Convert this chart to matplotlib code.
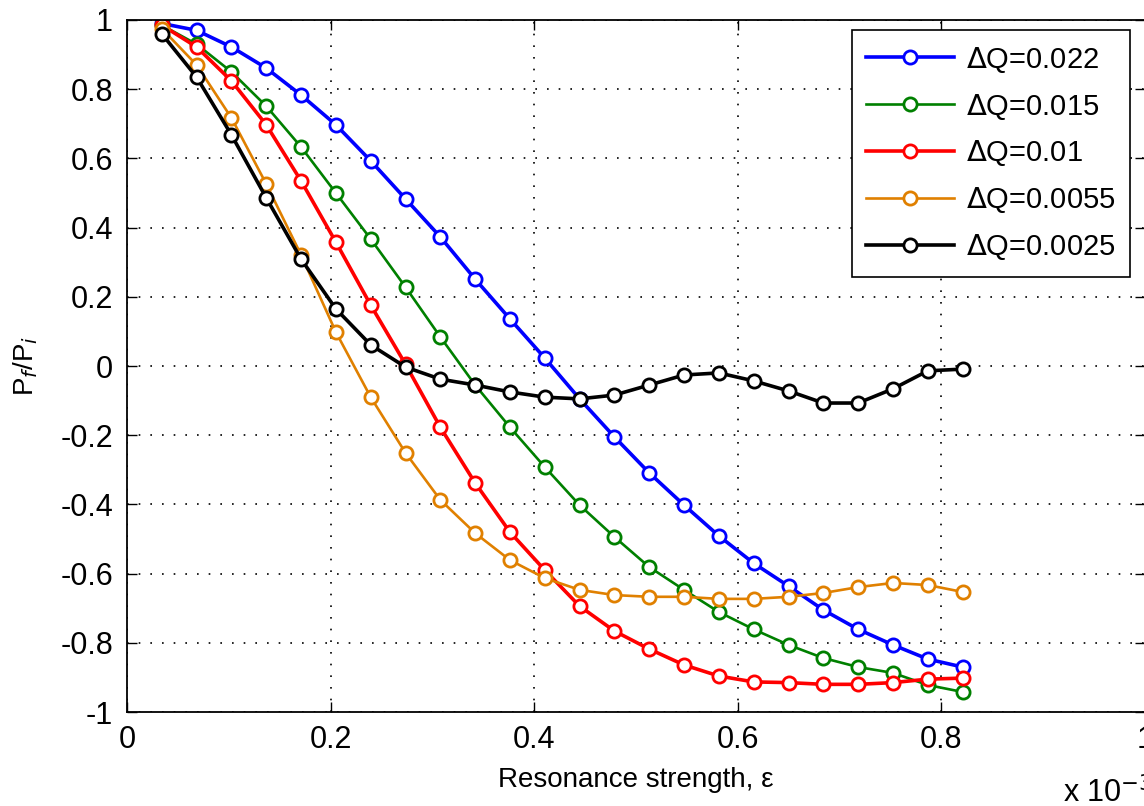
import numpy as np
import matplotlib
matplotlib.use("Agg")
import matplotlib.pyplot as plt

plt.rcParams['font.family'] = ['Liberation Sans', 'DejaVu Sans']

# resonance strength (x 1e-3)
eps = [0.0342, 0.0684, 0.1026, 0.1368, 0.1710, 0.2052, 0.2394, 0.2736,
       0.3078, 0.3420, 0.3762, 0.4104, 0.4446, 0.4788, 0.5130, 0.5472,
       0.5814, 0.6156, 0.6498, 0.6840, 0.7182, 0.7524, 0.7866, 0.8208]

# Pf/Pi para cada dQ
p_022 = [0.99, 0.97, 0.922, 0.861, 0.783, 0.697, 0.593, 0.483, 0.373, 0.251,
         0.136, 0.023, -0.095, -0.205, -0.309, -0.402, -0.491, -0.570, -0.636,
         -0.705, -0.761, -0.806, -0.847, -0.870]
p_015 = [0.985, 0.93, 0.85, 0.751, 0.633, 0.500, 0.367, 0.228, 0.084, -0.055,
         -0.177, -0.292, -0.402, -0.494, -0.581, -0.647, -0.711, -0.761, -0.806,
         -0.844, -0.870, -0.887, -0.922, -0.942]
p_010 = [0.985, 0.922, 0.824, 0.697, 0.535, 0.358, 0.176, 0.005, -0.177, -0.338,
         -0.480, -0.590, -0.694, -0.766, -0.818, -0.864, -0.896, -0.913, -0.915,
         -0.92, -0.92, -0.915, -0.905, -0.902]
p_0055 = [0.975, 0.87, 0.717, 0.526, 0.321, 0.098, -0.090, -0.251, -0.387, -0.483,
          -0.561, -0.613, -0.647, -0.662, -0.667, -0.667, -0.673, -0.673, -0.667,
          -0.656, -0.639, -0.627, -0.633, -0.653]
p_0025 = [0.960, 0.835, 0.668, 0.486, 0.309, 0.165, 0.061, -0.003, -0.038, -0.055,
          -0.075, -0.090, -0.095, -0.084, -0.055, -0.026, -0.020, -0.043, -0.072,
          -0.107, -0.107, -0.066, -0.014, -0.009]

series = [
    (p_022, r'$\Delta$Q=0.022', '#0000ff', 2.6),
    (p_015, r'$\Delta$Q=0.015', '#008000', 1.9),
    (p_010, r'$\Delta$Q=0.01', '#ff0000', 2.6),
    (p_0055, r'$\Delta$Q=0.0055', '#e08000', 1.9),
    (p_0025, r'$\Delta$Q=0.0025', '#000000', 2.6),
]

fig = plt.figure(figsize=(11.44, 8.06), dpi=100)
ax = fig.add_axes([0.111, 0.1166, 0.8899, 0.8586])

for vals, lab, col, lw in series:
    ax.plot(eps, vals, '-o', color=col, lw=lw, label=lab, markersize=9.5,
            markerfacecolor='white', markeredgecolor=col, markeredgewidth=2)

ax.set_xlim(0, 1)
ax.set_ylim(-1, 1)
ax.set_xticks([0, 0.2, 0.4, 0.6, 0.8, 1])
ax.set_xticklabels(['0', '0.2', '0.4', '0.6', '0.8', '1'])
ax.set_yticks(np.arange(-1, 1.01, 0.2))
ax.set_yticklabels(['-1', '-0.8', '-0.6', '-0.4', '-0.2', '0', '0.2', '0.4', '0.6', '0.8', '1'])
ax.tick_params(direction='in', length=7, width=1, labelsize=22, top=True, right=True)
ax.tick_params(axis='x', pad=9)
ax.tick_params(axis='y', pad=10)
ax.grid(True, color='black', linestyle=(0, (1, 6)), linewidth=1.2)
for s in ax.spines.values():
    s.set_linewidth(1.3)

ax.set_xlabel('Resonance strength, ε', fontsize=20, labelpad=9)
ax.set_ylabel(r'P$_f$/P$_i$', fontsize=20, labelpad=15)
fig.text(0.929, 0.004, r'x 10$^{-3}$', fontsize=22, va='baseline')

leg = ax.legend(loc='upper right', bbox_to_anchor=(0.985, 0.9855), fontsize=21,
                numpoints=1, handlelength=3.0, handletextpad=0.4, fancybox=False,
                framealpha=1, edgecolor='black', borderaxespad=0, labelspacing=0.58,
                borderpad=0.5)
leg.get_frame().set_linewidth(1.2)

fig.savefig('out.png', dpi=100)
